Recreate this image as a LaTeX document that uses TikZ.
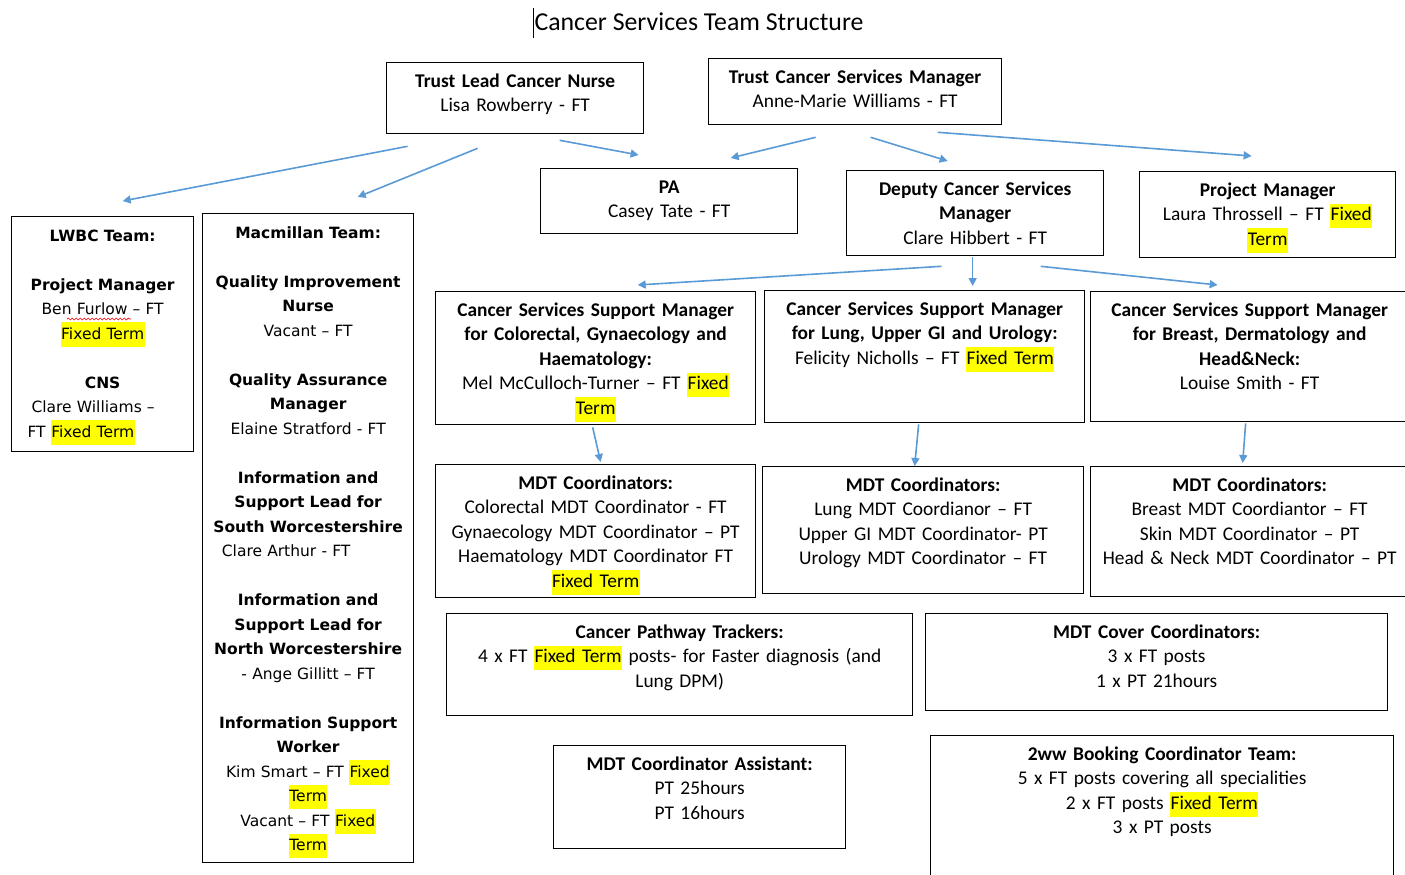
\documentclass[tikz,border=0pt]{standalone}
\usepackage{fontspec}
\setmainfont{Carlito}
\newfontfamily\verdfont{DejaVu Sans}
\usetikzlibrary{arrows.meta,decorations.pathmorphing}
\definecolor{linkblue}{HTML}{5B9BD5}
\definecolor{hlyellow}{HTML}{FFFF00}
\newcommand{\hl}[1]{{\setlength{\fboxsep}{0pt}\colorbox{hlyellow}{\strut\kern.5pt#1\kern.5pt}}}
\newcommand{\padr}[1]{\hbox to #1{}}

\begin{document}
\begin{tikzpicture}[x=1pt,y=-1pt,>=Latex,
 every node/.style={font=\fontsize{19.4}{24.5}\selectfont},
 box/.style 2 args={draw,line width=1.3pt,anchor=north west,inner sep=0pt,align=center,
   text width=#1pt,text height=24.5pt,text depth=#2pt-24.5pt},
 left box/.style 2 args={box={#1}{#2},font=\verdfont\fontsize{15.5}{24.5}\selectfont},
 link/.style={draw=linkblue,line width=1.6pt,-{Triangle[width=8pt,length=8pt]}}]
\path[use as bounding box,fill=white] (0,0) rectangle (1405,875);
\node[anchor=base] (title) at (699,31) {\fontsize{25.8}{30}\selectfont Cancer Services Team Structure};
\draw[line width=.8pt] (533,8) -- (533,38);
\node[box={257}{71}] (tln) at (386,62) {\textbf{Trust Lead Cancer Nurse}\\Lisa Rowberry - FT};
\node[box={293}{66}] (tcsm) at (708,58) {\textbf{Trust Cancer Services Manager}\\Anne-Marie Williams - FT};
\node[box={257}{65}] (pa) at (540,168) {\textbf{PA}\\Casey Tate - FT};
\node[box={257}{85}] (dep) at (846,170) {\textbf{Deputy Cancer Services}\\\textbf{Manager}\\Clare Hibbert - FT};
\node[box={256}{86}] (pm) at (1139,171) {\textbf{Project Manager}\\Laura Throssell – FT \hl{Fixed}\\\hl{Term}};
\node[left box={182}{235}] (lwbc) at (11,216) {\textbf{LWBC Team:}\\[24.5pt]
 \textbf{Project Manager}\\Ben Furlow – FT\\\hl{Fixed Term}\\[24.5pt]
 \textbf{CNS}\\Clare Williams –\padr{19pt}\\FT \hl{Fixed Term}\padr{43pt}};
\draw[red,line width=.7pt,decorate,decoration={snake,amplitude=1pt,segment length=4pt}] (67,319) -- (131,319);
\node[left box={211}{649}] (mac) at (202,213) {\textbf{Macmillan Team:}\\[24.5pt]
 \textbf{Quality Improvement}\\\textbf{Nurse}\\Vacant – FT\\[24.5pt]
 \textbf{Quality Assurance}\\\textbf{Manager}\\Elaine Stratford - FT\\[24.5pt]
 \textbf{Information and}\\\textbf{Support Lead for}\\\textbf{South Worcestershire}\\Clare Arthur - FT\padr{44pt}\\[24.5pt]
 \textbf{Information and}\\\textbf{Support Lead for}\\\textbf{North Worcestershire}\\- Ange Gillitt – FT\\[24.5pt]
 \textbf{Information Support}\\\textbf{Worker}\\Kim Smart – FT \hl{Fixed}\\\hl{Term}\\Vacant – FT \hl{Fixed}\\\hl{Term}};
\node[box={320}{133}] (cc) at (435,291) {\textbf{Cancer Services Support Manager}\\\textbf{for Colorectal, Gynaecology and}\\\textbf{Haematology:}\\Mel McCulloch-Turner – FT \hl{Fixed}\\\hl{Term}};
\node[box={320}{132}] (cl) at (764,290) {\textbf{Cancer Services Support Manager}\\\textbf{for Lung, Upper GI and Urology:}\\Felicity Nicholls – FT \hl{Fixed Term}};
\node[box={318}{130}] (cb) at (1090,291) {\textbf{Cancer Services Support Manager}\\\textbf{for Breast, Dermatology and}\\\textbf{Head\&Neck:}\\Louise Smith - FT};
\node[box={320}{133}] (mc) at (435,464) {\textbf{MDT Coordinators:}\\Colorectal MDT Coordinator - FT\\Gynaecology MDT Coordinator – PT\\Haematology MDT Coordinator FT\\\hl{Fixed Term}};
\node[box={321}{127}] (ml) at (762,466) {\textbf{MDT Coordinators:}\\Lung MDT Coordianor – FT\\Upper GI MDT Coordinator- PT\\Urology MDT Coordinator – FT};
\node[box={318}{130}] (mb) at (1090,466) {\textbf{MDT Coordinators:}\\Breast MDT Coordiantor – FT\\Skin MDT Coordinator – PT\\Head \& Neck MDT Coordinator – PT};
\node[box={466}{102}] (cpt) at (446,613) {\textbf{Cancer Pathway Trackers:}\\4 x FT \hl{Fixed Term} posts- for Faster diagnosis (and\\Lung DPM)};
\node[box={462}{97}] (cover) at (925,613) {\textbf{MDT Cover Coordinators:}\\3 x FT posts\\1 x PT 21hours};
\node[box={292}{103}] (assist) at (553,745) {\textbf{MDT Coordinator Assistant:}\\PT 25hours\\PT 16hours};
\node[box={463}{145}] (book) at (930,735) {\textbf{2ww Booking Coordinator Team:}\\5 x FT posts covering all specialities\\2 x FT posts \hl{Fixed Term}\\3 x PT posts};
\draw[link] ([shift={(-107.5,12)}]tln.south) -- ([shift={(20,-15)}]lwbc.north);
\draw[link] ([shift={(-37.5,14)}]tln.south) -- ([shift={(49.5,-16)}]mac.north);
\draw[link] ([shift={(44.5,6)}]tln.south) -- ([shift={(-30.5,-13)}]pa.north);
\draw[link] ([shift={(-39.5,12)}]tcsm.south) -- ([shift={(61.5,-10)}]pa.north);
\draw[link] ([shift={(15.5,12)}]tcsm.south) -- ([shift={(-27.5,-9)}]dep.north);
\draw[link] ([shift={(82.5,7)}]tcsm.south) -- ([shift={(-16,-15)}]pm.north);
\draw[link] ([shift={(-33.5,10)}]dep.south) -- ([shift={(42,-6)}]cc.north);
\draw[link] ([shift={(-2.5,1)}]dep.south) -- ([shift={(48,-4)}]cl.north);
\draw[link] ([shift={(65.5,10)}]dep.south) -- ([shift={(-32,-6)}]cb.north);
\draw[link] ([shift={(-3,2)}]cc.south) -- ([shift={(5,-2)}]mc.north);
\draw[link] ([shift={(-6,1)}]cl.south) -- ([shift={(-8.5,0)}]ml.north);
\draw[link] ([shift={(-4,1)}]cb.south) -- ([shift={(-7,-3)}]mb.north);
\end{tikzpicture}
\end{document}
